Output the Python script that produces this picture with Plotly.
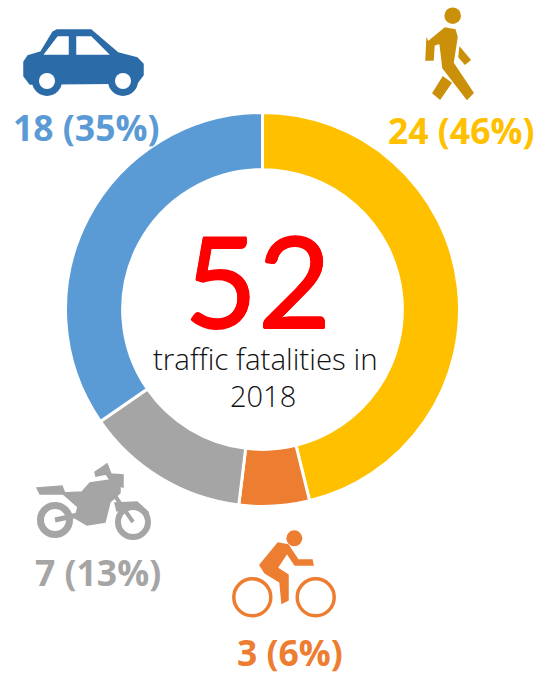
import plotly.graph_objects as go

W, H = 549, 675
categories = ["Pedestrian", "Cyclist", "Motorcyclist", "Car"]
fatalities = [24, 3, 7, 18]
colors = ["#FFC000", "#ED7D31", "#A5A5A5", "#5B9BD5"]
labels = ["24 (46%)", "3 (6%)", "7 (13%)", "18 (35%)"]
label_pos = [(461, 130), (290, 652), (98, 572), (86, 127)]
total_text = "52"
caption = ["traffic fatalities in", "2018"]

CX, CY, R = 262.5, 309.5, 197

fig = go.Figure()
fig.add_trace(go.Pie(
    labels=categories, values=fatalities, sort=False, direction="clockwise", rotation=0,
    hole=0.71, textinfo="none", hoverinfo="label+value+percent",
    marker=dict(colors=colors, line=dict(color="white", width=3)),
    domain=dict(x=[(CX - R) / W, (CX + R) / W], y=[1 - (CY + R) / H, 1 - (CY - R) / H]),
))
fig.add_trace(go.Scatter(x=[None], y=[None], mode="markers", showlegend=False, hoverinfo="skip"))


def poly(pts, color):
    d = "M " + " L ".join(f"{x},{y}" for x, y in pts) + " Z"
    return dict(type="path", xref="x", yref="y", path=d, fillcolor=color, line=dict(color=color, width=1.5))


def circ(cx, cy, r, fill, line=None, lw=0):
    return dict(type="circle", xref="x", yref="y", x0=cx - r, x1=cx + r, y0=cy - r, y1=cy + r,
                fillcolor=fill, line=dict(color=line or fill, width=lw))


def seg(pts, color, width):
    d = "M " + " L ".join(f"{x},{y}" for x, y in pts)
    return dict(type="path", xref="x", yref="y", path=d, line=dict(color=color, width=width))


CAR, WALK, MOTO, BIKE = "#2B6CA8", "#CB9009", "#A5A5A5", "#ED7D31"
shapes = [
    # car
    poly([(24, 62), (28, 56), (41, 52), (53, 32), (57, 30), (91, 30), (118, 53), (137, 58), (143, 64), (143, 75),
          (137, 83), (30, 84), (24, 76)], CAR),
    poly([(45, 54), (58, 37), (68, 37), (68, 54)], "white"),
    poly([(77, 37), (91, 37), (108, 54), (77, 54)], "white"),
    circ(47, 81, 15, CAR), circ(47, 81, 8, "white"),
    circ(123, 81, 15, CAR), circ(123, 81, 8, "white"),
    # walker
    circ(452.7, 15.7, 8.3, WALK),
    poly([(428, 42), (445, 28), (455, 30), (457, 37), (453, 63), (473, 93), (467, 99), (443, 68), (440, 43),
          (434, 45), (433, 60), (426, 60), (427, 40)], WALK),
    poly([(460, 48), (470, 60), (465, 64), (459, 57)], WALK),
    poly([(443, 77), (451, 83), (440, 99), (433, 93)], WALK),
    # motorcycle
    circ(55, 520, 14.5, "white", MOTO, 7),
    circ(133, 522, 15, "white", MOTO, 6),
    poly([(37, 488), (62, 486), (65, 494), (40, 494)], MOTO),
    poly([(62, 493), (82, 492), (90, 483), (110, 480), (120, 483), (120, 493), (110, 502), (105, 522), (87, 525),
          (75, 518), (78, 507), (70, 500)], MOTO),
    seg([(55, 520), (87, 513)], MOTO, 5),
    seg([(113, 493), (133, 522)], MOTO, 4),
    poly([(95, 472), (107, 464), (111, 474), (123, 475), (123, 487), (113, 484), (106, 474), (96, 476)], MOTO),
    poly([(115, 503), (137, 502), (148, 512), (148, 517), (137, 508), (117, 511)], MOTO),
    # cyclist
    circ(294.3, 538.3, 8, BIKE),
    poly([(260, 565), (278, 543), (288, 545), (298, 560), (312, 560), (313, 565), (295, 565), (287, 553), (277, 568),
          (288, 575), (288, 600), (282, 603), (280, 582), (265, 573)], BIKE),
    circ(252.3, 597.3, 18.5, "white", BIKE, 3.5),
    circ(315.7, 597.3, 18.5, "white", BIKE, 3.5),
]

annotations = []
for text, col, (x, y) in zip(labels, colors, label_pos):
    annotations.append(dict(x=x, y=y, xref="x", yref="y", text=f"<b>{text}</b>", showarrow=False,
                            font=dict(family="Open Sans", size=35.5, color=col)))
thick = "0.6px 0 #FF0000, -0.6px 0 #FF0000, 0 0.6px #FF0000, 0 -0.6px #FF0000"
annotations.append(dict(x=257.5, y=279, xref="x", yref="y", text=total_text, showarrow=False,
                        font=dict(family="Lato", size=127, color="#FF0000", shadow=thick)))
annotations.append(dict(x=265, y=358, xref="x", yref="y", text=caption[0], showarrow=False,
                        font=dict(family="Open Sans", size=29.5, color="#111111", weight=300)))
annotations.append(dict(x=263, y=395, xref="x", yref="y", text=caption[1], showarrow=False,
                        font=dict(family="Open Sans", size=29, color="#111111", weight=300)))

fig.update_layout(
    width=W, height=H, margin=dict(l=0, r=0, t=0, b=0), showlegend=False,
    paper_bgcolor="white", plot_bgcolor="rgba(0,0,0,0)",
    xaxis=dict(range=[0, W], visible=False, fixedrange=True),
    yaxis=dict(range=[H, 0], visible=False, fixedrange=True),
    shapes=shapes, annotations=annotations,
)
fig.write_html("out.html", config=dict(displayModeBar=False),
               post_script="document.body.style.margin='0';document.body.style.overflow='hidden';")
